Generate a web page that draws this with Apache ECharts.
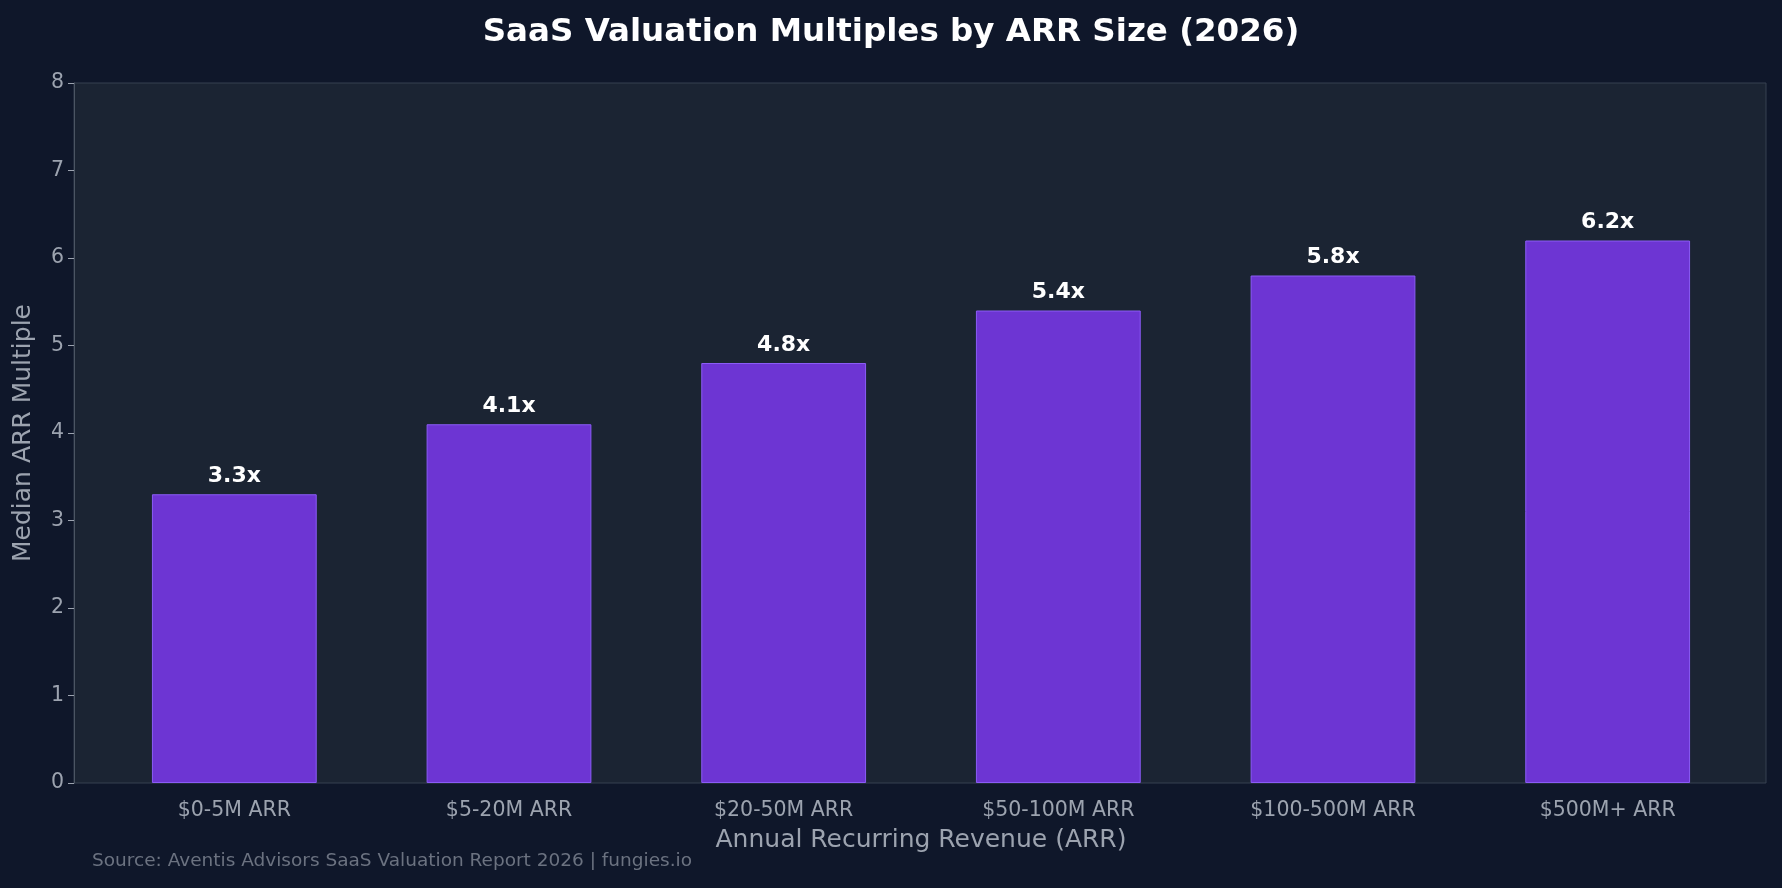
<!DOCTYPE html>
<html><head><meta charset="utf-8">
<script src="https://cdn.jsdelivr.net/npm/echarts@6/dist/echarts.min.js"></script>
<style>html,body{margin:0;padding:0;background:#0f172a;}#c{width:1782px;height:888px;}</style>
</head><body><div id="c"></div>
<script>
const categories = ['$0-5M ARR','$5-20M ARR','$20-50M ARR','$50-100M ARR','$100-500M ARR','$500M+ ARR'];
const values = [3.3, 4.1, 4.8, 5.4, 5.8, 6.2];
const yTicks = [0,1,2,3,4,5,6,7,8];
const chart = echarts.init(document.getElementById('c'));
const font = 'DejaVu Sans';
chart.setOption({
  backgroundColor: '#0f172a',
  textStyle: {fontFamily: font},
  title: {text: 'SaaS Valuation Multiples by ARR Size (2026)', left: 'center', top: 11,
    textStyle: {color: '#ffffff', fontSize: 32.5, fontWeight: 'bold', fontFamily: font}},
  graphic: [{type: 'text', left: 92, top: 852, style: {text: 'Source: Aventis Advisors SaaS Valuation Report 2026 | fungies.io', fill: '#6b7280', font: '18.5px DejaVu Sans'}}],
  grid: [
    {left: 74, right: 16, top: 83, bottom: 105, show: true, backgroundColor: '#1b2433', borderColor: '#374151', borderWidth: 1},
    {left: 97, right: 37, top: 83, bottom: 105}
  ],
  xAxis: [
    {type: 'category', gridIndex: 0, data: categories, show: false},
    {type: 'category', gridIndex: 1, data: categories,
    name: 'Annual Recurring Revenue (ARR)', nameLocation: 'middle', nameGap: 45,
    nameTextStyle: {color: '#9ca3af', fontSize: 25},
    axisLine: {show: false}, axisTick: {alignWithLabel: true, length: 6, lineStyle: {color: '#9ca3af'}},
    axisLabel: {color: '#9ca3af', fontSize: 20.5, margin: 17}}
  ],
  yAxis: [
    {type: 'value', gridIndex: 0, min: 0, max: 8, interval: 1,
    name: 'Median ARR Multiple', nameLocation: 'middle', nameGap: 38,
    nameTextStyle: {color: '#9ca3af', fontSize: 25},
    splitLine: {show: false}, axisLine: {show: true, lineStyle: {color: '#4b5563'}},
    axisTick: {show: true, length: 6, lineStyle: {color: '#9ca3af'}},
    axisLabel: {color: '#9ca3af', fontSize: 20.5, margin: 10, formatter: v => yTicks.includes(v) ? String(v) : ''}},
    {type: 'value', gridIndex: 1, min: 0, max: 8, interval: 1, show: false}
  ],
  series: [{type: 'bar', xAxisIndex: 1, yAxisIndex: 1, data: values, barWidth: '60%',
    itemStyle: {color: '#6d35d3', borderColor: '#8b5cf6', borderWidth: 1},
    label: {show: true, position: 'top', distance: 7, color: '#ffffff', fontWeight: 'bold', fontSize: 22, formatter: p => p.value.toFixed(1) + 'x'}}]
});
</script></body></html>
